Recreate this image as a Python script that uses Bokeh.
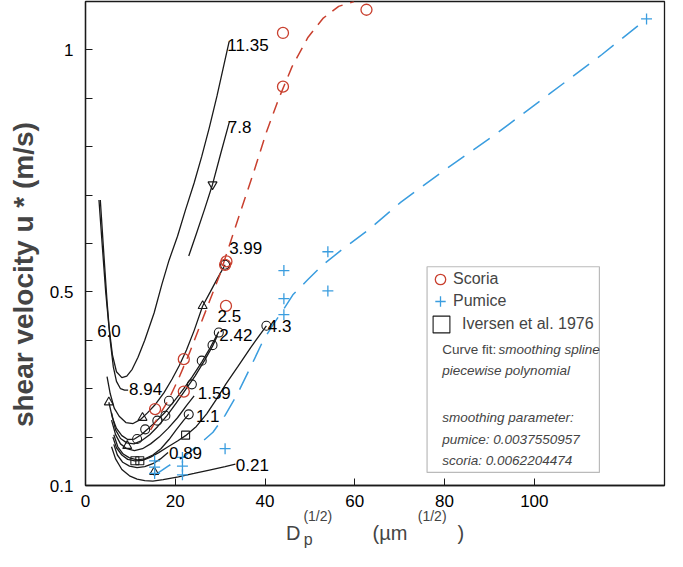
from bokeh.plotting import figure
from bokeh.models import (Range1d, FixedTicker, Label, Legend, LegendItem, LinearAxis,
                          BoxAnnotation, ColumnDataSource, CustomJSTickFormatter)
from bokeh.core.properties import value
from bokeh.embed import file_html
from bokeh.resources import INLINE

FONT = "Liberation Sans"
RED = "#c9402f"
BLUE = "#3a9ddf"
INK = "#1a1a1a"
NB = "\u00a0"

# ---------------- data ----------------
scoria_x = [15.5, 21.9, 21.9, 31.3, 31.1, 31.4, 44.0, 44.0, 62.6]
scoria_y = [0.258, 0.361, 0.294, 0.471, 0.556, 0.563, 0.924, 1.035, 1.083]

pumice_x = [15.4, 15.4, 15.4, 21.6, 21.6, 21.6, 31.1, 44.2, 44.2, 44.2, 54.0, 54.0, 125.0]
pumice_y = [0.151, 0.138, 0.125, 0.158, 0.140, 0.122, 0.176, 0.544, 0.486, 0.453, 0.583, 0.502, 1.064]

scoria_fit_x = [14.5, 16.1, 18.4, 20.7, 23.0, 25.3, 27.6, 29.9, 31.3, 34.5, 37.4, 40.3, 43.1, 46.0, 49.5, 52.9, 56.4, 59.8]
scoria_fit_y = [0.215, 0.240, 0.275, 0.320, 0.370, 0.425, 0.480, 0.535, 0.575, 0.665, 0.745, 0.830, 0.900, 0.965, 1.025, 1.065, 1.090, 1.100]

pumice_fit_x = [15.2, 18.4, 22.3, 25.3, 28.4, 31.1, 33.9, 36.8, 39.6, 42.0, 44.2, 46.2, 49.5, 52.9, 57.5, 63.3, 70.2, 80.5, 92.0, 103.5, 115.0, 125.0]
pumice_fit_y = [0.120, 0.140, 0.162, 0.185, 0.210, 0.245, 0.290, 0.345, 0.400, 0.435, 0.465, 0.494, 0.525, 0.556, 0.590, 0.630, 0.685, 0.755, 0.830, 0.910, 0.990, 1.064]

# Iversen et al. (1976) data markers
iv_sq_x = [11.0, 12.1, 22.3]
iv_sq_y = [0.151, 0.151, 0.204]
iv_ci_x = [11.5, 13.3, 16.0, 17.8, 18.6, 23.7, 25.9, 28.3, 29.7, 23.0, 40.3, 31.1]
iv_ci_y = [0.196, 0.216, 0.234, 0.244, 0.275, 0.309, 0.358, 0.390, 0.416, 0.247, 0.430, 0.556]
iv_tri_x = [5.2, 9.3, 12.7, 15.3, 26.1]
iv_tri_y = [0.272, 0.182, 0.240, 0.128, 0.471]
iv_itri_x = [28.3]
iv_itri_y = [0.722]

# Iversen threshold curves (density labels)
c1135_x = [3.0, 3.7, 4.5, 5.2, 6.0, 6.9, 8.1, 9.2, 10.4, 11.7, 13.2, 15.3, 17.0, 18.6, 20.5, 22.3, 24.2, 25.9, 27.6, 29.3, 31.1, 32.0]
c1135_y = [0.690, 0.600, 0.500, 0.430, 0.370, 0.335, 0.323, 0.326, 0.340, 0.365, 0.400, 0.457, 0.515, 0.565, 0.615, 0.670, 0.725, 0.780, 0.840, 0.905, 0.980, 1.017]
c894_x = [3.3, 4.0, 4.8, 5.5, 6.2, 6.9, 7.8, 8.7, 9.5]
c894_y = [0.690, 0.590, 0.480, 0.400, 0.345, 0.315, 0.300, 0.297, 0.297]
c78_x = [23.0, 24.7, 26.5, 28.3, 30.1, 32.1]
c78_y = [0.574, 0.620, 0.670, 0.722, 0.785, 0.853]
c399_x = [26.1, 27.8, 29.4, 31.1]
c399_y = [0.471, 0.500, 0.528, 0.556]
c25_x = [4.8, 5.5, 6.4, 7.5, 9.0, 10.6, 12.2, 13.8, 15.6, 17.5, 19.3, 20.9, 22.5, 24.2, 26.1]
c25_y = [0.325, 0.290, 0.260, 0.243, 0.230, 0.228, 0.236, 0.250, 0.268, 0.292, 0.320, 0.348, 0.380, 0.420, 0.471]
c242a_x = [5.2, 6.0, 6.9, 8.1, 9.4, 10.9, 12.4, 14.0, 15.9, 17.8, 19.8, 21.9, 23.8, 25.9, 27.8, 29.7]
c242a_y = [0.272, 0.240, 0.218, 0.203, 0.195, 0.196, 0.205, 0.218, 0.234, 0.252, 0.275, 0.300, 0.325, 0.355, 0.385, 0.418]
c242b_x = [5.8, 6.7, 7.8, 9.2, 10.8, 12.4, 14.3, 16.1, 18.2, 20.2, 22.3, 24.4, 26.5, 28.3, 29.4]
c242b_y = [0.250, 0.215, 0.197, 0.188, 0.186, 0.192, 0.205, 0.222, 0.245, 0.270, 0.298, 0.326, 0.358, 0.388, 0.410]
c159_x = [5.8, 6.7, 7.8, 9.2, 10.9, 12.7, 14.5, 16.4, 18.4, 20.5, 22.5, 24.2]
c159_y = [0.235, 0.205, 0.186, 0.176, 0.172, 0.176, 0.186, 0.200, 0.218, 0.240, 0.265, 0.285]
c11_x = [6.3, 7.2, 8.4, 9.8, 11.5, 13.2, 15.0, 16.8, 18.6, 20.2, 21.9, 23.0]
c11_y = [0.205, 0.180, 0.165, 0.157, 0.153, 0.155, 0.163, 0.176, 0.195, 0.215, 0.235, 0.247]
c43_x = [6.1, 6.9, 8.1, 9.4, 11.0, 12.7, 14.4, 16.3, 18.4, 20.5, 22.3, 24.7, 27.0, 29.3, 31.3, 33.9, 36.8, 40.3]
c43_y = [0.200, 0.178, 0.163, 0.154, 0.151, 0.152, 0.158, 0.168, 0.180, 0.192, 0.203, 0.222, 0.248, 0.280, 0.310, 0.345, 0.385, 0.430]
c089_x = [6.3, 7.1, 8.3, 9.8, 11.5, 13.2, 15.0, 16.7, 18.4]
c089_y = [0.185, 0.163, 0.148, 0.140, 0.137, 0.139, 0.145, 0.155, 0.168]
c021_x = [5.8, 6.7, 8.1, 9.8, 11.5, 13.2, 15.0, 17.3, 20.7, 24.2, 27.6, 31.1, 33.4]
c021_y = [0.180, 0.155, 0.133, 0.120, 0.113, 0.110, 0.109, 0.112, 0.118, 0.125, 0.132, 0.139, 0.144]

curve_labels = ["11.35", "7.8", "3.99", "2.5", "2.42", "1.59", "1.1", "0.89", "0.21", "8.94", "6.0", "4.3"]
curve_label_x = [31.6, 31.7, 32.0, 29.4, 29.8, 25.0, 24.6, 18.6, 33.5, 9.7, 2.6, 40.6]
curve_label_y = [1.010, 0.840, 0.590, 0.450, 0.410, 0.291, 0.243, 0.168, 0.143, 0.299, 0.420, 0.430]

x_ticks = [0, 20, 40, 60, 80, 100]
y_major_ticks = [0.1, 0.5, 1.0]
y_minor_ticks = [0.2, 0.3, 0.4, 0.6, 0.7, 0.8, 0.9]

legend_notes = ["piecewise polynomial", "smoothing parameter:",
                "pumice: 0.0037550957", "scoria: 0.0062204474"]

# ---------------- figure ----------------
p = figure(width=675, height=551, output_backend="svg", toolbar_location=None,
           x_range=Range1d(0, 129), y_range=Range1d(0.1, 1.1),
           min_border_left=85, min_border_right=11, min_border_top=1, min_border_bottom=66)
p.xgrid.visible = False
p.ygrid.visible = False
p.outline_line_color = INK
p.outline_line_width = 1.3
p.background_fill_color = "white"
p.border_fill_color = "white"

for ax in (p.xaxis[0], p.yaxis[0]):
    ax.axis_line_color = INK
    ax.axis_line_width = 1.3
    ax.major_tick_in = 7
    ax.major_tick_out = 0
    ax.minor_tick_in = 7
    ax.minor_tick_out = 0
    ax.major_tick_line_color = INK
    ax.minor_tick_line_color = INK
    ax.major_label_text_font = FONT
    ax.major_label_text_font_size = "17px"
    ax.major_label_text_color = "black"
    ax.major_label_standoff = 12

p.xaxis.ticker = FixedTicker(ticks=x_ticks)
p.xaxis.major_label_standoff = 9
p.yaxis.ticker = FixedTicker(ticks=y_major_ticks, minor_ticks=y_minor_ticks)
p.yaxis.formatter = CustomJSTickFormatter(code="return tick.toString();")
p.yaxis.axis_label = "shear velocity u * (m/s)" + NB * 8
p.yaxis.axis_label_text_font = FONT
p.yaxis.axis_label_text_font_size = "28px"
p.yaxis.axis_label_text_font_style = "bold"
p.yaxis.axis_label_standoff = 8

# x-axis title "D_p^(1/2)   (µm^(1/2))" built as three stacked label rows
# row 1: superscripts (label of the main x axis)
p.xaxis.axis_label = "(1/2)" + NB * 22 + "(1/2)"
p.xaxis.axis_label_text_font = FONT
p.xaxis.axis_label_text_font_size = "14px"
p.xaxis.axis_label_text_font_style = "normal"
p.xaxis.axis_label_standoff = -2

def title_row(text, size, standoff):
    ax = LinearAxis(ticker=FixedTicker(ticks=[]), axis_line_color=None,
                    major_tick_line_color=None, minor_tick_line_color=None,
                    major_tick_out=0, minor_tick_out=0, major_label_standoff=0,
                    axis_label=text, axis_label_text_font=FONT,
                    axis_label_text_font_size=size, axis_label_text_font_style="normal",
                    axis_label_standoff=standoff)
    p.add_layout(ax, "below")

# row 2: main symbols
title_row("D" + NB * 13 + "(µm" + NB * 9 + ")", "20px", -5)
# row 3: subscript p just after the D
title_row("p" + NB * 30, "16px", -16)

# Iversen curves
curves = [(c1135_x, c1135_y), (c894_x, c894_y), (c78_x, c78_y), (c399_x, c399_y),
          (c25_x, c25_y), (c242a_x, c242a_y), (c242b_x, c242b_y), (c159_x, c159_y),
          (c11_x, c11_y), (c43_x, c43_y), (c089_x, c089_y), (c021_x, c021_y)]
for cx, cy in curves:
    p.line(cx, cy, line_color=INK, line_width=1.3)

# fits
p.line(scoria_fit_x, scoria_fit_y, line_color=RED, line_width=1.5, line_dash="12 8")
p.line(pumice_fit_x, pumice_fit_y, line_color=BLUE, line_width=1.5, line_dash="20 11")

# Iversen markers
p.scatter(iv_ci_x, iv_ci_y, marker="circle", size=9, fill_color=None, line_color=INK, line_width=1.1)
iv_sq = p.scatter(iv_sq_x, iv_sq_y, marker="square", size=8, fill_color=None, line_color=INK, line_width=1.1)
p.scatter(iv_tri_x, iv_tri_y, marker="triangle", size=9, fill_color=None, line_color=INK, line_width=1.1)
p.scatter(iv_itri_x, iv_itri_y, marker="inverted_triangle", size=9, fill_color=None, line_color=INK, line_width=1.1)

# data points
sc = p.scatter(scoria_x, scoria_y, marker="circle", size=11, fill_color=None, line_color=RED, line_width=1.3)
pu = p.scatter(pumice_x, pumice_y, marker="cross", size=11, line_color=BLUE, line_width=1.3)

# curve labels
lab_src = ColumnDataSource(dict(x=curve_label_x, y=curve_label_y, t=curve_labels))
p.text(x="x", y="y", text="t", source=lab_src, text_font=value(FONT), text_font_size="17px",
       text_baseline="middle", text_align="left", text_color="black")

# legend box
p.add_layout(BoxAnnotation(left=76.1, right=114.5, bottom=0.127, top=0.552,
                           fill_color="white", fill_alpha=1.0, line_color=INK, line_width=1.2))

def one_legend(label, rend, gsize, loc, standoff):
    lg = Legend(items=[LegendItem(label=label, renderers=[rend])], location=loc,
                glyph_width=gsize, glyph_height=gsize, label_standoff=standoff,
                label_text_font=FONT, label_text_font_size="16px", label_height=20,
                padding=0, margin=0, spacing=0, border_line_color=None,
                background_fill_alpha=0.0)
    p.add_layout(lg)

one_legend("Scoria", sc, 26, (342, 193), -3)
one_legend("Pumice", pu, 26, (342, 171), -3)
one_legend("Iversen et al. 1976", iv_sq, 42, (335, 140), -12)

NOTE_FS = "13.5px"
p.add_layout(Label(x=79.5, y=0.3808, text="Curve fit:", text_font=FONT, text_font_size=NOTE_FS,
                   text_baseline="middle"))
p.add_layout(Label(x=92.0, y=0.3808, text="smoothing spline", text_font=FONT, text_font_size=NOTE_FS,
                   text_font_style="italic", text_baseline="middle"))
for t, yy in zip(legend_notes, [0.3374, 0.2404, 0.195, 0.1516]):
    p.add_layout(Label(x=79.5, y=yy, text=t, text_font=FONT, text_font_size=NOTE_FS,
                       text_font_style="italic", text_baseline="middle"))

open("out.html", "w").write(file_html(p, INLINE))
